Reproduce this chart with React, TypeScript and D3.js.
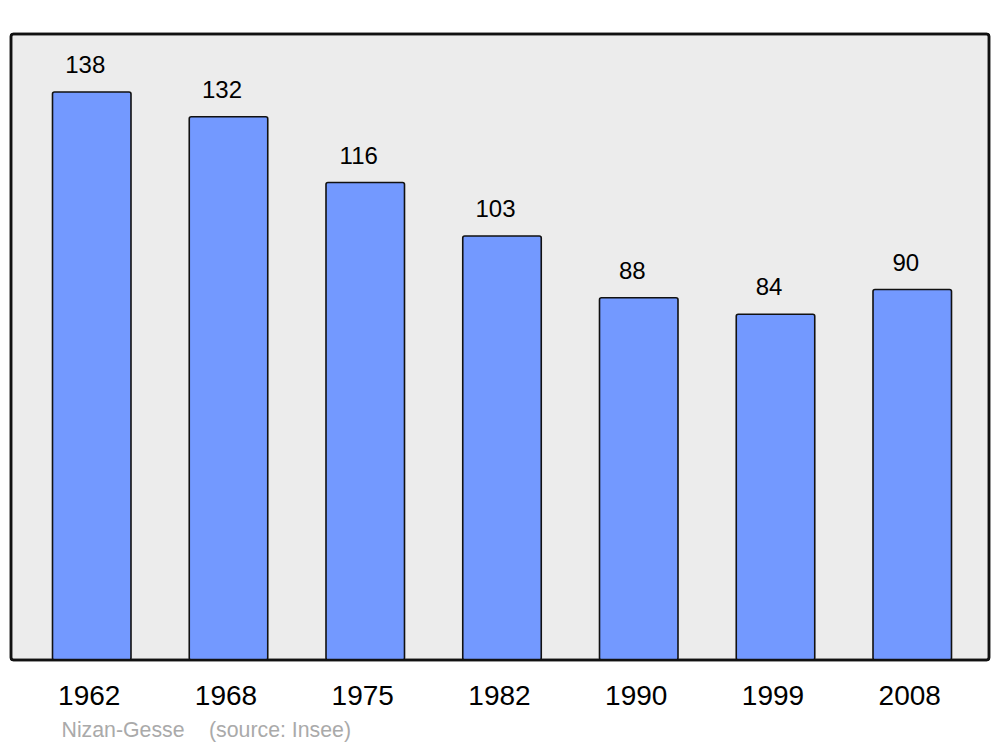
import React from "react";
import * as d3 from "d3";

const years = ["1962", "1968", "1975", "1982", "1990", "1999", "2008"];
const population = [138, 132, 116, 103, 88, 84, 90];
const footerName = "Nizan-Gesse";
const footerSource = "(source: Insee)";

export default function App() {
  const W = 1000, H = 747;
  const baseline = 660;
  const x = d3.scaleBand<string>().domain(years).range([52.5, 951.5]).paddingInner(0.426).paddingOuter(0);
  const y = d3.scaleLinear().domain([0, 138]).range([baseline, 92]);
  const font = "Liberation Sans, Arial, sans-serif";
  return (
    <svg width={W} height={H} style={{ position: "absolute", left: 0, top: 0 }} fontFamily={font}>
      <rect x={0} y={0} width={W} height={H} fill="#ffffff" />
      <rect x={11} y={34} width={978} height={626} rx={2.5} fill="#ececec" stroke="#111" strokeWidth={2.5} />
      {years.map((yr, i) => {
        const bx = x(yr)!;
        const bw = x.bandwidth();
        const v = population[i];
        return (
          <g key={yr}>
            <rect x={bx} y={y(v)} width={bw} height={baseline - y(v)} rx={2} fill="#7399ff" stroke="#111" strokeWidth={1.6} />
            <text x={bx + bw / 2 - 6.5} y={y(v) - 19} textAnchor="middle" fontSize={24} fill="#000">{v}</text>
            <text x={bx + bw / 2 - 2.5} y={705} textAnchor="middle" fontSize={28} fill="#000">{yr}</text>
          </g>
        );
      })}
      <rect x={11} y={34} width={978} height={626} rx={2.5} fill="none" stroke="#111" strokeWidth={2.5} />
      <text x={61.5} y={737} fontSize={21.3} fill="#aaaaaa">{footerName}</text>
      <text x={209} y={737} fontSize={21.3} fill="#aaaaaa">{footerSource}</text>
    </svg>
  );
}
